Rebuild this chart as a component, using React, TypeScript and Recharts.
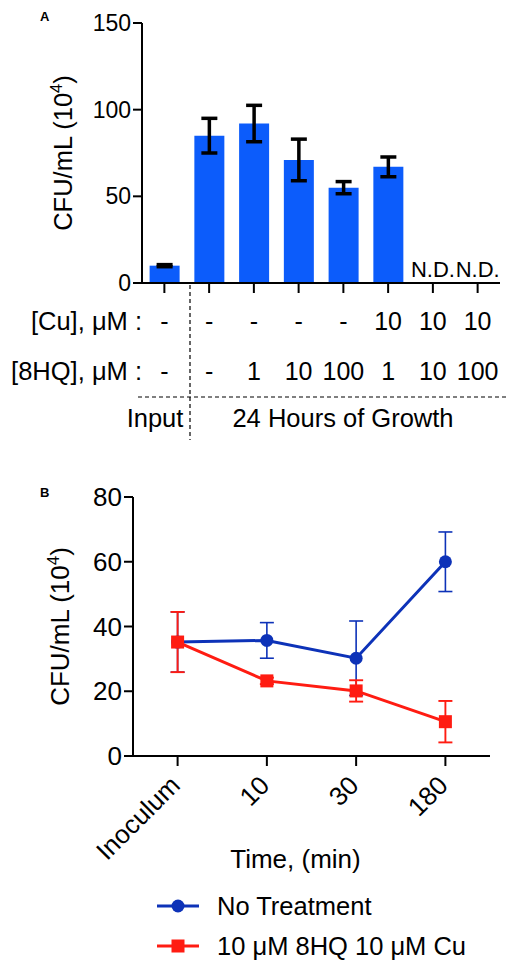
import React from 'react';
import {
  BarChart, Bar, LineChart, Line, XAxis, YAxis, ErrorBar, Legend,
} from 'recharts';

// Panel A: bacterial counts after 24 h
const conditions = ['Input', '-/-', '-/1', '-/10', '-/100', '10/1', '10/10', '10/100'];
const cuLabels = ['-', '-', '-', '-', '-', '10', '10', '10'];
const hqLabels = ['-', '-', '1', '10', '100', '1', '10', '100'];
const cfuA = [10, 85, 92, 71, 55, 67, null, null];
const cfuAErr = [0.6, 10, 10.5, 12, 3.5, 5.7, null, null];
const ticksA = [0, 50, 100, 150];

// Panel B: time course
const times = ['Inoculum', '10', '30', '180'];
const noTreatment = [35.2, 35.7, 30.2, 60];
const noTreatmentErr = [9.3, 5.5, 11.5, 9.2];
const treated = [35.2, 23.2, 20.1, 10.6];
const treatedErr = [9.3, 1, 3.3, 6.4];
const ticksB = [0, 20, 40, 60, 80];

const FONT = '"Liberation Sans", Arial, Helvetica, sans-serif';
const BAR_BLUE = '#0c5cfb';
const LINE_BLUE = '#0d32b8';
const LINE_RED = '#ff1c12';
const MU = '\u03bc';

const dataA = conditions.map((c, i) => ({
  cond: c, cfu: cfuA[i], err: cfuAErr[i], cu: cuLabels[i], hq: hqLabels[i],
}));

const dataB = times.map((t, i) => ({
  time: t, none: noTreatment[i], noneErr: noTreatmentErr[i], cu: treated[i], cuErr: treatedErr[i],
}));

const YTitle = ({ viewBox, cx, size }: any) => {
  const y = viewBox.y + viewBox.height / 2;
  return (
    <text x={cx} y={y} transform={`rotate(-90, ${cx}, ${y})`} textAnchor="middle"
      fontFamily={FONT} fontSize={size} fill="#000">
      CFU/mL (10<tspan dy={-10} fontSize={size * 0.65}>4</tspan><tspan dy={10}>)</tspan>
    </text>
  );
};

const ConditionTick = ({ x, y, payload }: any) => {
  const row = dataA[payload.index];
  return (
    <g fontFamily={FONT} fill="#000" textAnchor="middle">
      {row.cfu == null && (
        <text x={x} y={y - 16} fontSize={22}>N.D.</text>
      )}
      <text x={x} y={y + 37} fontSize={25}>{row.cu}</text>
      <text x={x} y={y + 87} fontSize={25}>{row.hq}</text>
    </g>
  );
};

const TimeTick = ({ x, y, payload }: any) => (
  <text x={x + 4} y={y + 21} transform={`rotate(-45, ${x + 4}, ${y + 21})`}
    textAnchor="end" fontFamily={FONT} fontSize={26} fill="#000">
    {payload.value}
  </text>
);

const Marker = ({ cx, cy, shape, color }: any) =>
  shape === 'square'
    ? <rect x={cx - 6.5} y={cy - 6.5} width={13} height={13} fill={color} />
    : <circle cx={cx} cy={cy} r={6.5} fill={color} />;

const LegendBox = () => {
  const items = [
    { name: 'No Treatment', color: LINE_BLUE, shape: 'circle' },
    { name: `10 ${MU}M 8HQ 10 ${MU}M Cu`, color: LINE_RED, shape: 'square' },
  ];
  return (
    <div style={{ fontFamily: FONT, fontSize: 25.5, color: '#000' }}>
      {items.map((it) => (
        <div key={it.name} style={{ display: 'flex', alignItems: 'center', height: 40 }}>
          <svg width={60} height={20}>
            <line x1={0} y1={10} x2={42} y2={10} stroke={it.color} strokeWidth={3} />
            <Marker cx={21} cy={10} shape={it.shape} color={it.color} />
          </svg>
          <span>{it.name}</span>
        </div>
      ))}
    </div>
  );
};

const tickA = { fontFamily: FONT, fontSize: 23, fill: '#000' };
const tickB = { fontFamily: FONT, fontSize: 26, fill: '#000' };

export default function App() {
  return (
    <div style={{ position: 'relative', width: 516, height: 968, margin: -8, background: '#fff', fontFamily: FONT }}>
      <div style={{ position: 'absolute', left: 0, top: 0 }}>
        <BarChart width={516} height={440} data={dataA} barCategoryGap="17%"
          margin={{ top: 23, right: 16, left: 0, bottom: 0 }}>
          <XAxis dataKey="cond" height={157} interval={0} tickSize={10} tickMargin={0}
            stroke="#000" strokeWidth={2} tick={<ConditionTick />} />
          <YAxis domain={[0, 150]} ticks={ticksA} width={142} tickSize={9} stroke="#000"
            strokeWidth={2} tick={tickA} label={<YTitle cx={72} size={25.5} />} />
          <Bar dataKey="cfu" fill={BAR_BLUE} isAnimationActive={false}>
            <ErrorBar dataKey="err" width={8} stroke="#000" strokeWidth={3.5} />
          </Bar>
        </BarChart>
        <svg width={516} height={440} style={{ position: 'absolute', left: 0, top: 0, pointerEvents: 'none' }}
          fontFamily={FONT}>
          <text x={40} y={21} fontSize={13} fontWeight="bold">A</text>
          <line x1={190} y1={285} x2={190} y2={440} stroke="#000" strokeWidth={1.2} strokeDasharray="4 3" />
          <line x1={138} y1={397} x2={507} y2={397} stroke="#000" strokeWidth={1.2} strokeDasharray="4 3" />
          <text x={142} y={330} fontSize={25.5} textAnchor="end">[Cu], {MU}M :</text>
          <text x={142} y={380} fontSize={25.5} textAnchor="end">[8HQ], {MU}M :</text>
          <text x={155} y={427} fontSize={25.5} textAnchor="middle">Input</text>
          <text x={343} y={427} fontSize={25.5} textAnchor="middle">24 Hours of Growth</text>
        </svg>
      </div>

      <div style={{ position: 'absolute', left: 0, top: 440 }}>
        <LineChart width={516} height={528} data={dataB}
          margin={{ top: 57, right: 26, left: 0, bottom: 0 }}>
          <XAxis dataKey="time" height={212} interval={0} tickSize={10} tickMargin={0}
            padding={{ left: 44.6, right: 44.6 }}
            stroke="#000" strokeWidth={2} tick={<TimeTick />}
            label={{ value: 'Time, (min)', position: 'insideTop', offset: 94, dx: -16,
              style: { fontFamily: FONT, fontSize: 26, fill: '#000' } }} />
          <YAxis domain={[0, 80]} ticks={ticksB} width={133} tickSize={9} stroke="#000"
            strokeWidth={2} tick={tickB} label={<YTitle cx={69} size={26} />} />
          <Legend layout="vertical" align="center" verticalAlign="middle" content={<LegendBox />}
            wrapperStyle={{ left: 157, top: 446, width: 350 }} />
          <Line dataKey="none" name="No Treatment" stroke={LINE_BLUE} strokeWidth={3}
            dot={<Marker shape="circle" color={LINE_BLUE} />} isAnimationActive={false}>
            <ErrorBar dataKey="noneErr" width={7} stroke={LINE_BLUE} strokeWidth={1.6} />
          </Line>
          <Line dataKey="cu" name="10 uM 8HQ 10 uM Cu" stroke={LINE_RED} strokeWidth={3}
            dot={<Marker shape="square" color={LINE_RED} />} isAnimationActive={false}>
            <ErrorBar dataKey="cuErr" width={7} stroke={LINE_RED} strokeWidth={1.9} />
          </Line>
        </LineChart>
        <svg width={516} height={100} style={{ position: 'absolute', left: 0, top: 0, pointerEvents: 'none' }}>
          <text x={40} y={57} fontSize={13} fontWeight="bold" fontFamily={FONT}>B</text>
        </svg>
      </div>
    </div>
  );
}
